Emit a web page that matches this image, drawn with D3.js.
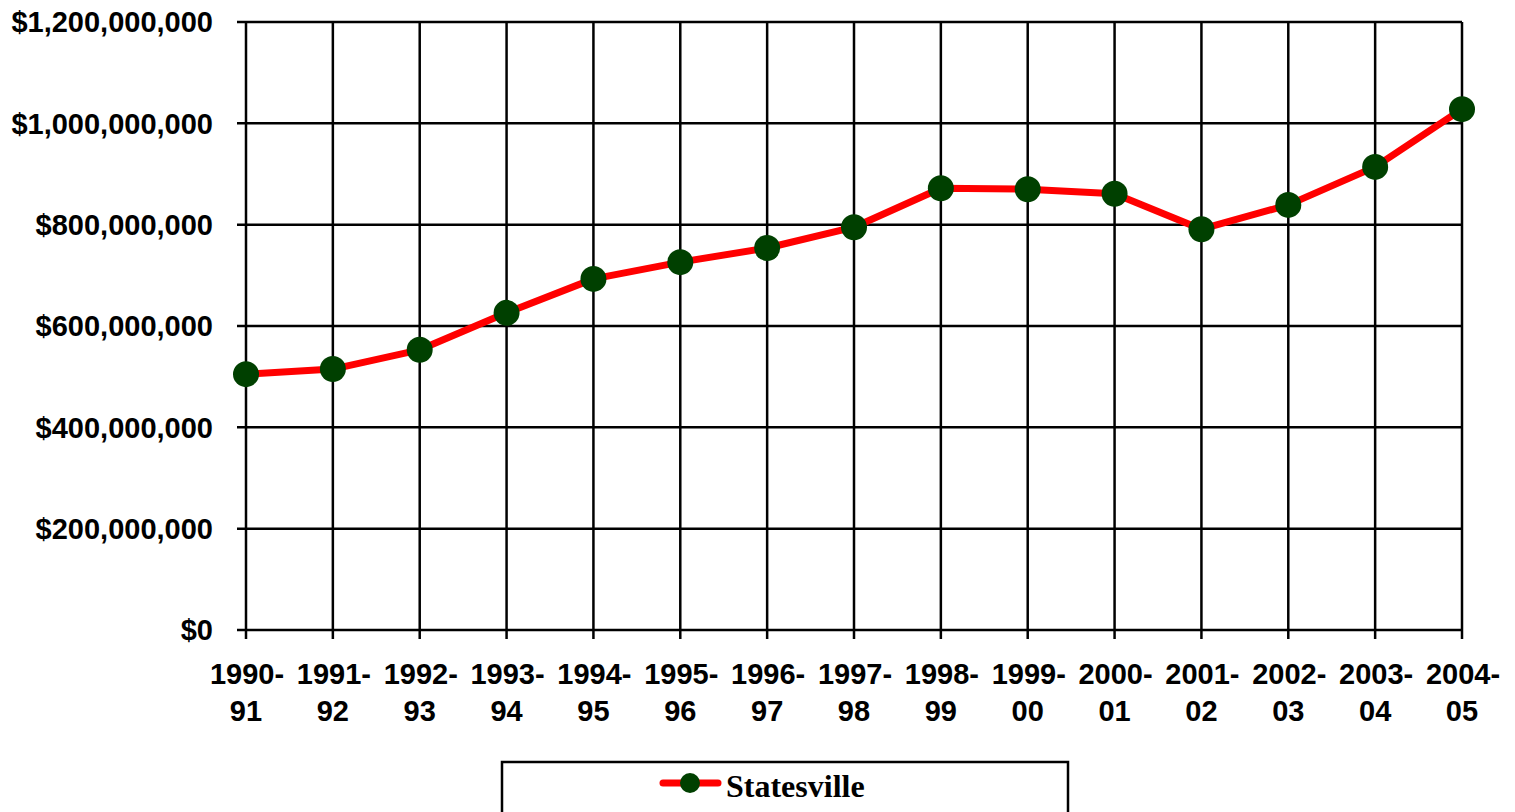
<!DOCTYPE html>
<html>
<head>
<meta charset="utf-8">
<script src="https://cdnjs.cloudflare.com/ajax/libs/d3/7.8.5/d3.min.js"></script>
<style>
html,body{margin:0;padding:0;background:#fff;}
svg{display:block;}
</style>
</head>
<body>
<script>
const categories = ["1990-91","1991-92","1992-93","1993-94","1994-95","1995-96","1996-97","1997-98","1998-99","1999-00","2000-01","2001-02","2002-03","2003-04","2004-05"];
const values = [505e6, 515e6, 553e6, 626e6, 693e6, 726e6, 754e6, 795e6, 872e6, 870e6, 861e6, 791e6, 839e6, 914e6, 1028e6];
const yTicks = [0, 200e6, 400e6, 600e6, 800e6, 1000e6, 1200e6];
const seriesName = "Statesville";

const W = 1515, H = 812;
const plotL = 246, plotR = 1462, plotT = 22, plotB = 630;

const svg = d3.select("body").append("svg").attr("width", W).attr("height", H);

const x = d3.scalePoint().domain(categories).range([plotL, plotR]);
const y = d3.scaleLinear().domain([0, 1200e6]).range([plotB, plotT]);

const fmt = v => "$" + d3.format(",")(v);

// horizontal gridlines
svg.append("g").selectAll("line").data(yTicks).join("line")
  .attr("x1", plotL - 9).attr("x2", plotR)
  .attr("y1", d => y(d)).attr("y2", d => y(d))
  .attr("stroke", "#000").attr("stroke-width", 2.5);

// vertical gridlines
svg.append("g").selectAll("line").data(categories).join("line")
  .attr("x1", d => x(d)).attr("x2", d => x(d))
  .attr("y1", plotT).attr("y2", plotB + 9)
  .attr("stroke", "#000").attr("stroke-width", 2.5);

// y labels
svg.append("g").selectAll("text").data(yTicks).join("text")
  .attr("x", 213).attr("y", d => y(d))
  .attr("dy", "0.36em")
  .attr("text-anchor", "end")
  .attr("font-family", "Liberation Sans, Arial, sans-serif")
  .attr("font-weight", "bold")
  .attr("font-size", 29)
  .text(fmt);

// x labels
const xl = svg.append("g").selectAll("text").data(categories).join("text")
  .attr("text-anchor", "middle")
  .attr("font-family", "Liberation Sans, Arial, sans-serif")
  .attr("font-weight", "bold")
  .attr("font-size", 29);
xl.append("tspan").attr("x", d => x(d) + 1).attr("y", 684).text(d => d.split("-")[0] + "-");
xl.append("tspan").attr("x", d => x(d)).attr("y", 721).text(d => d.split("-")[1]);

// line
const line = d3.line().x((d, i) => x(categories[i])).y(d => y(d));
svg.append("path").datum(values)
  .attr("d", line).attr("fill", "none")
  .attr("stroke", "#ff0000").attr("stroke-width", 7)
  .attr("stroke-linejoin", "round");

svg.append("g").selectAll("circle").data(values).join("circle")
  .attr("cx", (d, i) => x(categories[i])).attr("cy", d => y(d))
  .attr("r", 13).attr("fill", "#004000");

// legend
const lg = svg.append("g");
lg.append("rect").attr("x", 502).attr("y", 762).attr("width", 566).attr("height", 52)
  .attr("fill", "#fff").attr("stroke", "#000").attr("stroke-width", 2.5);
lg.append("line").attr("x1", 663).attr("x2", 718).attr("y1", 783).attr("y2", 783)
  .attr("stroke", "#ff0000").attr("stroke-width", 7).attr("stroke-linecap", "round");
lg.append("circle").attr("cx", 690).attr("cy", 783).attr("r", 10).attr("fill", "#004000");
lg.append("text").attr("x", 726).attr("y", 797)
  .attr("font-family", "Liberation Serif, Times New Roman, serif")
  .attr("font-weight", "bold").attr("font-size", 32)
  .text(seriesName);
</script>
</body>
</html>
